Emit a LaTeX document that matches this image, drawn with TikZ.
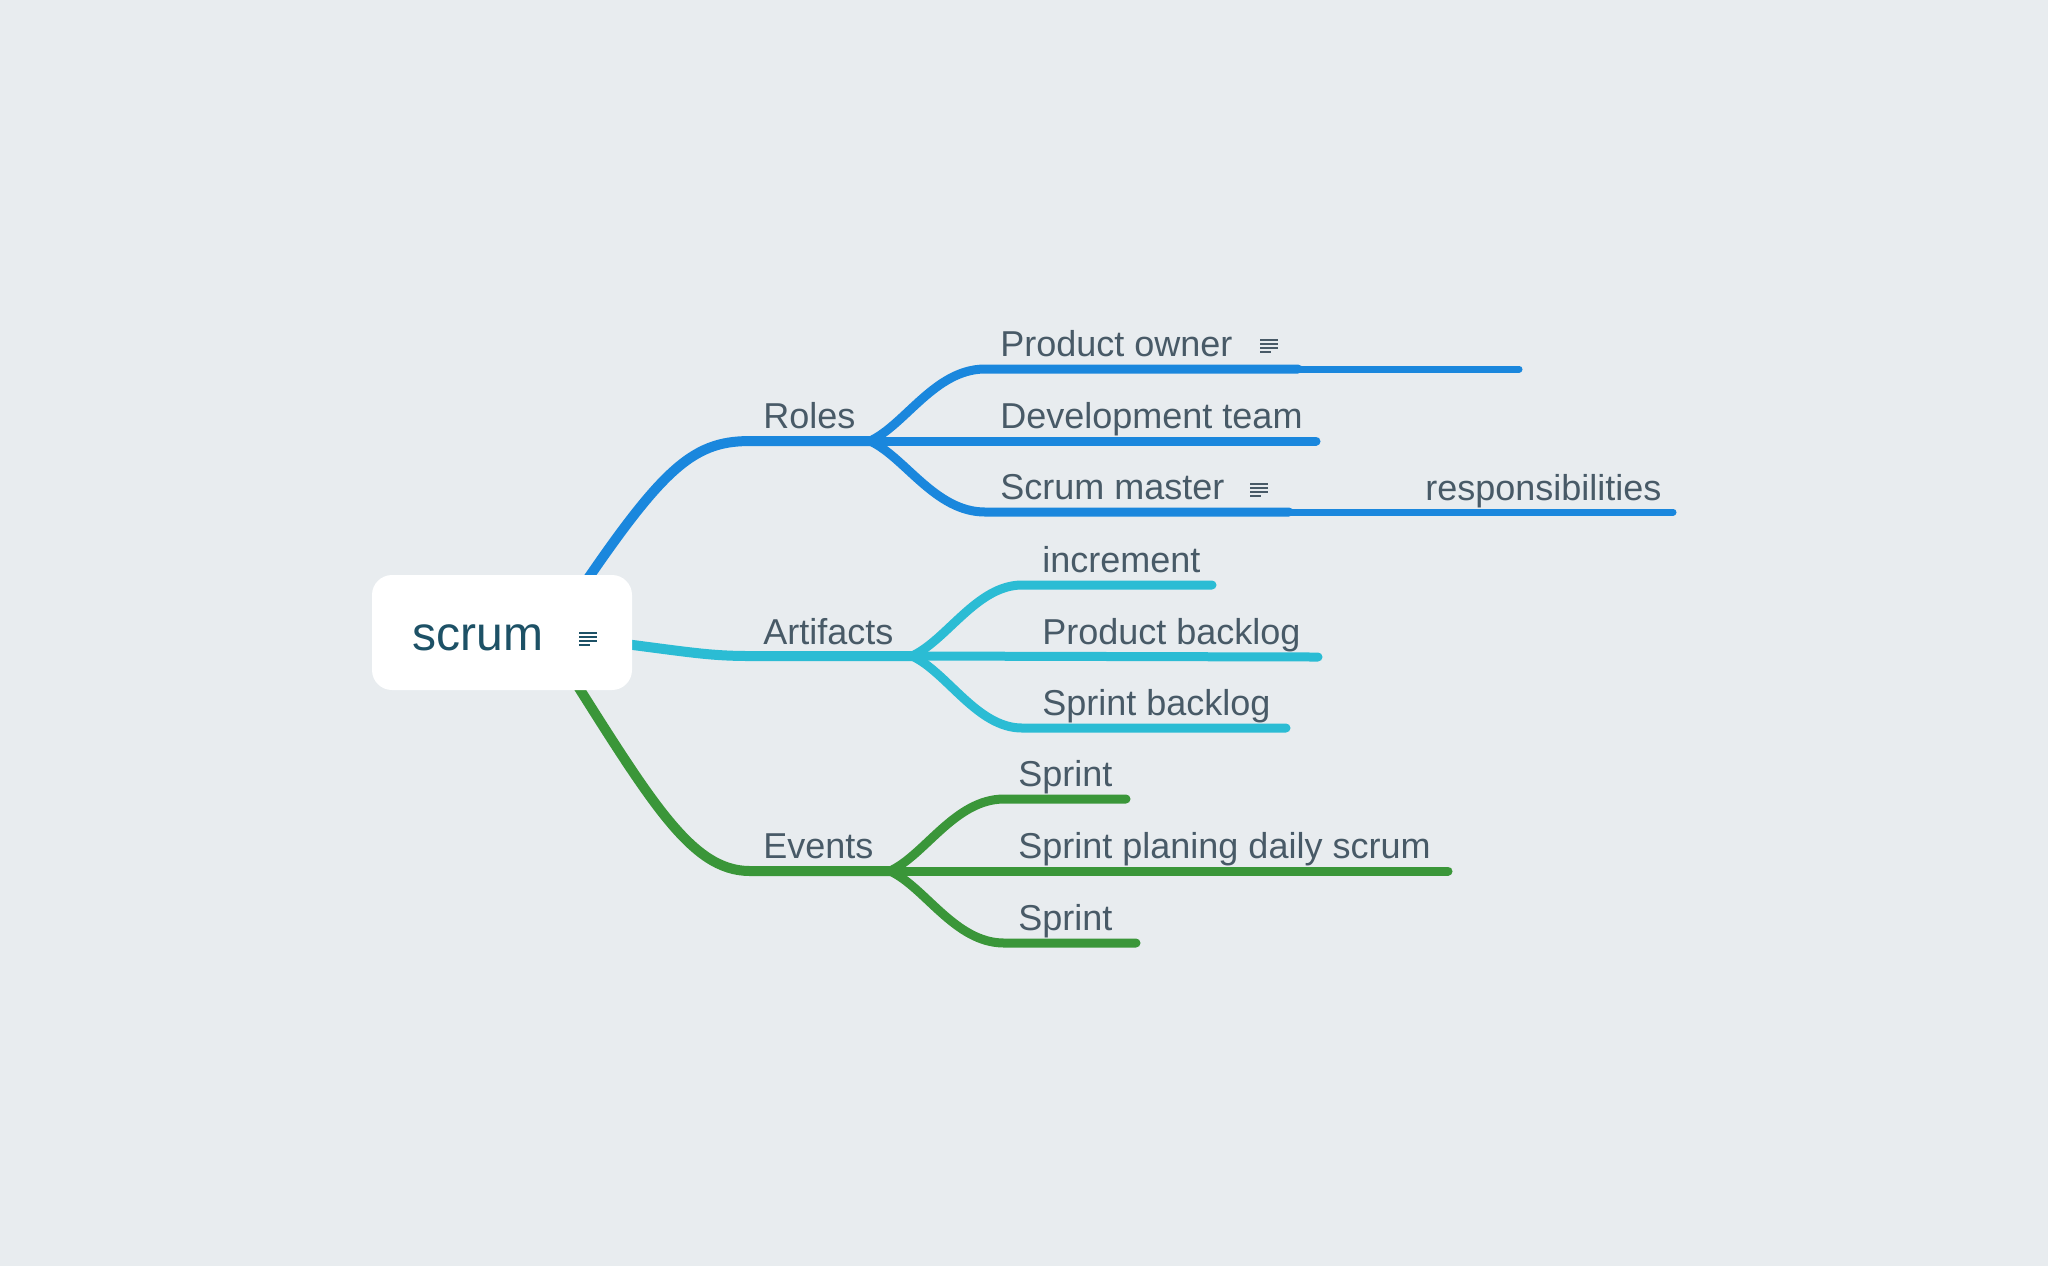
\documentclass[tikz,border=0pt]{standalone}
\usepackage{fontspec}
\setmainfont{Liberation Sans}
\definecolor{bgcol}{HTML}{E8ECEF}
\definecolor{ink}{HTML}{485A67}
\definecolor{rootink}{HTML}{1D5166}
\definecolor{rolescol}{HTML}{1A87DD}
\definecolor{artcol}{HTML}{2BBCD4}
\definecolor{eventcol}{HTML}{3A9639}

% small "note" mark: four lines, the last one shorter
\newcommand{\notemark}[2][note mark]{%
  \begin{scope}[shift={(#2)}]
    \draw[#1] (0,0) -- (18,0) (0,4) -- (18,4) (0,8) -- (18,8) (0,12) -- (11,12);
  \end{scope}}

\begin{document}
\begin{tikzpicture}[
    x=0.5pt, y=-0.5pt,
    topic/.style={anchor=base west, inner sep=0pt, text=ink, font=\fontsize{18}{22}\selectfont},
    root topic/.style={anchor=base west, inner sep=0pt, text=rootink, font=\fontsize{24}{28}\selectfont},
    root box/.style={rectangle, rounded corners=10pt, fill=white, minimum width=130pt, minimum height=57.5pt, inner sep=0pt},
    main branch/.style={line width=5pt},
    sub branch/.style={line width=4.5pt, line cap=round},
    ext branch/.style={line width=3.5pt, line cap=round},
    note mark/.style={line width=0.9pt, draw=ink},
    root mark/.style={line width=1pt, draw=rootink}
]

\fill[bgcol] (0,0) rectangle (2048,1266);
\useasboundingbox (0,0) rectangle (2048,1266);

% forks and line ends
\coordinate (rolesS) at (560,620);  \coordinate (rolesF) at (870,441);
\coordinate (artS)   at (560,636);  \coordinate (artF)   at (912,656);
\coordinate (eventS) at (555,650);  \coordinate (eventF) at (890,871);

\coordinate (ownerE) at (1298,369);  \coordinate (ownerX)  at (1519,369);
\coordinate (devE)   at (1316,441);
\coordinate (masterE) at (1289,512); \coordinate (masterX) at (1673,512);
\coordinate (incE)   at (1212,585);
\coordinate (pbE)    at (1318,657);
\coordinate (sbE)    at (1286,728);
\coordinate (sprAE)  at (1126,799);
\coordinate (planE)  at (1448,871);
\coordinate (sprBE)  at (1136,943);

% branches from the root
\draw[main branch, rolescol] (rolesS) .. controls (660,470) and (690,441) .. (750,441) -- (rolesF);
\draw[main branch, artcol] (artS) .. controls (680,650) and (700,656) .. (750,656) -- (artF);
\draw[main branch, eventcol] (eventS) .. controls (650,800) and (690,871) .. (750,871) -- (eventF);

% Roles
\draw[sub branch, rolescol] (rolesF) .. controls (905,425) and (935,369) .. (985,369) -- (ownerE);
\draw[ext branch, rolescol] (ownerE) -- (ownerX);
\draw[sub branch, rolescol] (rolesF) -- (devE);
\draw[sub branch, rolescol] (rolesF) .. controls (905,457) and (935,512) .. (985,512) -- (masterE);
\draw[ext branch, rolescol] (masterE) -- (masterX);

% Artifacts
\draw[sub branch, artcol] (artF) .. controls (947,640) and (977,585) .. (1022,585) -- (incE);
\draw[sub branch, artcol] (artF) -- (pbE);
\draw[sub branch, artcol] (artF) .. controls (947,672) and (977,728) .. (1022,728) -- (sbE);

% Events
\draw[sub branch, eventcol] (eventF) .. controls (925,855) and (955,799) .. (1004,799) -- (sprAE);
\draw[sub branch, eventcol] (eventF) -- (planE);
\draw[sub branch, eventcol] (eventF) .. controls (925,887) and (955,943) .. (1004,943) -- (sprBE);

% root
\node[root box] (rootbox) at (502,632.5) {};
\node[root topic] (root) at (412,650) {scrum};
\notemark[root mark]{579,633}

% topics
\node[topic] (roles)     at (763,428) {Roles};
\node[topic] (artifacts) at (763,644) {Artifacts};
\node[topic] (events)    at (763,858) {Events};

\node[topic] (owner)  at (1000,356) {Product owner};
\node[topic] (devteam) at (1000,428) {Development team};
\node[topic] (master) at (1000,499) {Scrum master};
\node[topic] (resp)   at (1425,500) {responsibilities};
\notemark{1260,340}
\notemark{1250,484}

\node[topic] (increment) at (1042,572) {increment};
\node[topic] (pbacklog)  at (1042,644) {Product backlog};
\node[topic] (sbacklog)  at (1042,715) {Sprint backlog};

\node[topic] (sprintA) at (1018,786) {Sprint};
\node[topic] (planing) at (1018,858) {Sprint planing daily scrum};
\node[topic] (sprintB) at (1018,930) {Sprint};

\end{tikzpicture}
\end{document}
